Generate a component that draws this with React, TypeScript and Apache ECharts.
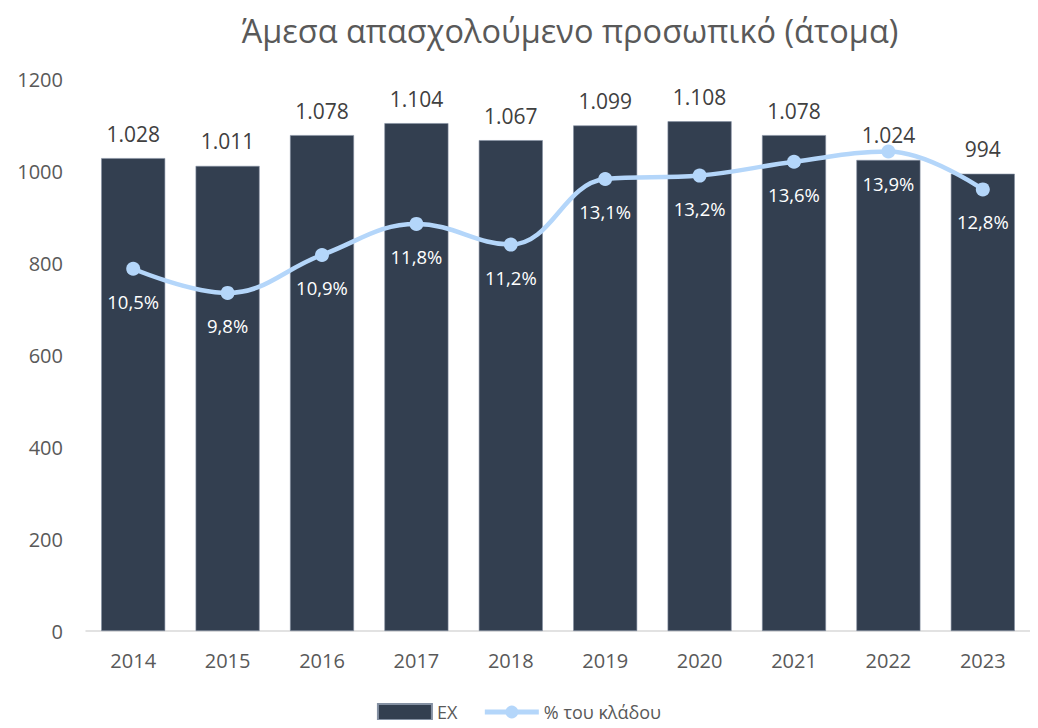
import React, { useEffect, useRef } from "react";
import * as echarts from "echarts";

const categories = ["2014", "2015", "2016", "2017", "2018", "2019", "2020", "2021", "2022", "2023"];
const employees = [1028, 1011, 1078, 1104, 1067, 1099, 1108, 1078, 1024, 994];
const sharePct = [10.5, 9.8, 10.9, 11.8, 11.2, 13.1, 13.2, 13.6, 13.9, 12.8];
const yTicks = { min: 0, max: 1200, interval: 200 };

const FONT = "'Open Sans', 'Noto Sans', sans-serif";

export default function App() {
  const ref = useRef<HTMLDivElement>(null);
  useEffect(() => {
    const chart = echarts.init(ref.current!, null, { renderer: "svg" });
    chart.setOption({
      animation: false,
      textStyle: { fontFamily: FONT },
      title: {
        text: "Άμεσα απασχολούμενο προσωπικό (άτομα)",
        left: 565,
        textAlign: "center",
        top: 9,
        textStyle: { fontFamily: FONT, fontSize: 32.5, fontWeight: "normal", color: "#595959" },
      },
      grid: { left: 86, right: 8, top: 79, bottom: 97 },
      legend: {
        top: 698,
        left: "center",
        itemGap: 25,
        itemWidth: 54,
        itemHeight: 16,
        textStyle: { fontFamily: FONT, fontSize: 18, color: "#595959" },
        data: [
          { name: "EX", icon: "rect" },
          { name: "% του κλάδου", lineStyle: { width: 5 } },
        ],
      },
      xAxis: {
        type: "category",
        data: categories,
        axisLine: { lineStyle: { color: "#d9d9d9", width: 1.5 } },
        axisTick: { show: false },
        axisLabel: { fontFamily: FONT, fontSize: 20, color: "#595959", margin: 19 },
      },
      yAxis: [
        {
          type: "value",
          min: yTicks.min,
          max: yTicks.max,
          interval: yTicks.interval,
          splitLine: { show: false },
          axisLine: { show: false },
          axisTick: { show: false },
          axisLabel: {
            fontFamily: FONT,
            fontSize: 20,
            color: "#595959",
            margin: 23,
            formatter: (v: number) => String(v),
          },
        },
        {
          type: "value",
          min: 0,
          max: 16,
          show: false,
          splitLine: { show: false },
        },
      ],
      series: [
        {
          name: "EX",
          type: "bar",
          data: employees,
          barWidth: 64,
          itemStyle: { color: "#333f50", borderColor: "#8591a3", borderWidth: 0.6 },
          label: {
            show: true,
            position: "top",
            distance: 14,
            fontFamily: FONT,
            fontSize: 21,
            color: "#404040",
            formatter: (p: any) => {
              const v = p.value as number;
              return v >= 1000 ? Math.floor(v / 1000) + "." + String(v % 1000).padStart(3, "0") : String(v);
            },
          },
        },
        {
          name: "% του κλάδου",
          type: "line",
          yAxisIndex: 1,
          data: sharePct,
          smooth: 0.4,
          symbol: "circle",
          symbolSize: 14,
          lineStyle: { color: "#b4d6fa", width: 4.5 },
          itemStyle: { color: "#b4d6fa" },
          label: {
            show: true,
            position: "bottom",
            distance: 16,
            fontFamily: FONT,
            fontSize: 18.5,
            color: "#ffffff",
            formatter: (p: any) => (p.value as number).toFixed(1).replace(".", ",") + "%",
          },
        },
      ],
    });
    return () => chart.dispose();
  }, []);
  return <div ref={ref} style={{ width: 1038, height: 728, margin: -8 }} />;
}
